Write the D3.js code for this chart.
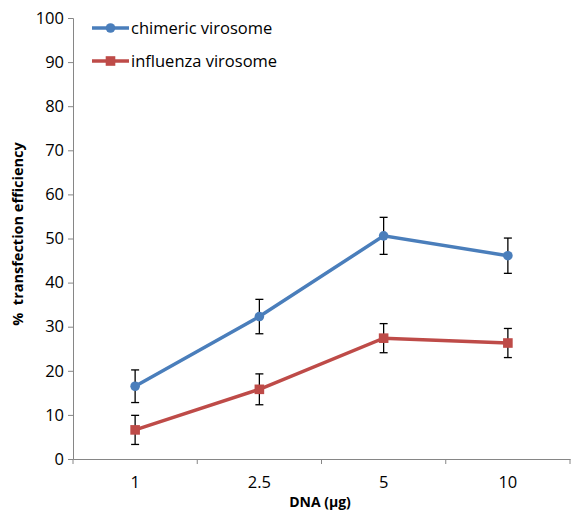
<!DOCTYPE html>
<html>
<head>
<meta charset="utf-8">
<script src="https://cdn.jsdelivr.net/npm/d3@7.9.0/dist/d3.min.js"></script>
<style>
  body { margin: 0; background: #fff; }
  svg { font-family: "Open Sans", "Liberation Sans", sans-serif; }
</style>
</head>
<body>
<svg id="chart" width="574" height="518"></svg>
<script>
// data
const doses = ['1', '2.5', '5', '10'];
const chimeric = [16.5, 32.3, 50.6, 46.1];
const chimericErr = [3.7, 3.9, 4.2, 4.0];
const influenza = [6.6, 15.8, 27.4, 26.3];
const influenzaErr = [3.3, 3.5, 3.3, 3.3];
const yTicks = [0, 10, 20, 30, 40, 50, 60, 70, 80, 90, 100];

const series = [
  { name: 'chimeric virosome', values: chimeric, err: chimericErr, color: '#4a7ebb', shape: 'circle' },
  { name: 'influenza virosome', values: influenza, err: influenzaErr, color: '#be4b48', shape: 'square' }
];

const svg = d3.select('#chart');
const margin = { left: 73, right: 4, top: 18, bottom: 59 };
const width = 574 - margin.left - margin.right;
const height = 518 - margin.top - margin.bottom;

const x = d3.scaleBand().domain(doses).range([margin.left, margin.left + width]);
const y = d3.scaleLinear().domain([0, 100]).range([margin.top + height, margin.top]);

const axisColor = '#868686';

// y axis
const yAxis = svg.append('g')
  .attr('transform', `translate(${margin.left},0)`)
  .call(d3.axisLeft(y).tickValues(yTicks).tickSize(5).tickPadding(4));
yAxis.selectAll('text').attr('font-size', 16.5).attr('fill', '#000');

// x axis, ticks at band edges
const xAxis = svg.append('g')
  .attr('transform', `translate(0,${margin.top + height})`)
  .call(d3.axisBottom(x).tickSize(0).tickPadding(17));
xAxis.selectAll('text').attr('font-size', 16.5).attr('fill', '#000');
const edges = doses.map(d => x(d)).concat([x(doses[doses.length - 1]) + x.bandwidth()]);
xAxis.selectAll('.edge')
  .data(edges)
  .join('line')
  .attr('x1', d => d).attr('x2', d => d)
  .attr('y1', 0).attr('y2', 5)
  .attr('stroke', axisColor);

[yAxis, xAxis].forEach(a => {
  a.select('.domain').attr('stroke', axisColor);
  a.selectAll('.tick line').attr('stroke', axisColor);
  a.attr('font-family', null);
});

const cx = d => x(d) + x.bandwidth() / 2;

series.forEach(s => {
  const pts = doses.map((d, i) => ({ d, v: s.values[i], e: s.err[i] }));

  // error bars
  const eb = svg.append('g').attr('stroke', '#000').attr('stroke-width', 1.3);
  pts.forEach(p => {
    const xc = cx(p.d);
    eb.append('line').attr('x1', xc).attr('x2', xc).attr('y1', y(p.v + p.e)).attr('y2', y(p.v - p.e));
    eb.append('line').attr('x1', xc - 4).attr('x2', xc + 4).attr('y1', y(p.v + p.e)).attr('y2', y(p.v + p.e));
    eb.append('line').attr('x1', xc - 4).attr('x2', xc + 4).attr('y1', y(p.v - p.e)).attr('y2', y(p.v - p.e));
  });

  svg.append('path')
    .datum(pts)
    .attr('fill', 'none')
    .attr('stroke', s.color)
    .attr('stroke-width', 3.5)
    .attr('d', d3.line().x(p => cx(p.d)).y(p => y(p.v)));

  pts.forEach(p => {
    if (s.shape === 'circle') {
      svg.append('circle').attr('cx', cx(p.d)).attr('cy', y(p.v)).attr('r', 4.8).attr('fill', s.color);
    } else {
      svg.append('rect').attr('x', cx(p.d) - 4.8).attr('y', y(p.v) - 4.8).attr('width', 9.6).attr('height', 9.6).attr('fill', s.color);
    }
  });
});

// legend
const legend = svg.append('g').attr('transform', 'translate(92,28)');
series.forEach((s, i) => {
  const g = legend.append('g').attr('transform', `translate(0,${i * 33})`);
  g.append('line').attr('x1', 0).attr('x2', 37).attr('stroke', s.color).attr('stroke-width', 3.5);
  if (s.shape === 'circle') {
    g.append('circle').attr('cx', 18.5).attr('r', 4.8).attr('fill', s.color);
  } else {
    g.append('rect').attr('x', 13.7).attr('y', -4.8).attr('width', 9.6).attr('height', 9.6).attr('fill', s.color);
  }
  g.append('text').attr('x', 39).attr('dy', '0.35em').attr('font-size', 16.5).text(s.name);
});

// axis titles
svg.append('text')
  .attr('x', 320)
  .attr('y', 507)
  .attr('text-anchor', 'middle')
  .attr('font-size', 14)
  .attr('font-weight', 'bold')
  .text('DNA (µg)');

svg.append('text')
  .attr('transform', `translate(23,234) rotate(-90)`)
  .attr('text-anchor', 'middle')
  .attr('font-size', 14.5)
  .attr('font-weight', 'bold')
  .attr('xml:space', 'preserve')
  .style('white-space', 'pre')
  .text('%  transfection efficiency');
</script>
</body>
</html>
